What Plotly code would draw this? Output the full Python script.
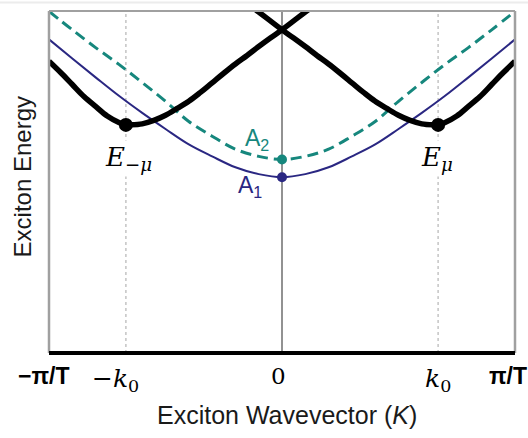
import plotly.graph_objects as go

# ---- data (k in units of pi/T, energy in arbitrary units) ----
K0 = 0.67

K_HALF = [-1.0, -0.9, -0.8, -0.7, -0.6, -0.5, -0.4, -0.3, -0.2, -0.1, 0.0]
A1_HALF = [91.7, 86.1, 80.6, 75.2, 70.2, 65.5, 61.0, 57.5, 54.3, 52.3, 51.4]
A2_HALF = [99.9, 94.5, 89.3, 84.4, 79.1, 73.6, 67.7, 63.4, 59.6, 57.5, 56.6]

K_BLACK = [-1.0, -0.95, -0.9, -0.85, -0.8, -0.75, -0.7, -0.67, -0.65, -0.6, -0.55,
           -0.5, -0.45, -0.4, -0.35, -0.3, -0.25, -0.2, -0.15, -0.1, -0.05,
           0.0, 0.05, 0.1, 0.15]
E_MINUS_MU = [85.3, 82.0, 78.5, 75.0, 72.1, 69.3, 67.4, 66.7, 66.7, 67.0, 68.0,
              69.5, 71.5, 73.6, 76.2, 79.0, 81.8, 84.5, 87.0, 89.6, 92.1,
              94.5, 97.1, 99.7, 102.2]

TICK_LABELS = ["<b>\u2212\u03c0/T</b>", "\u2212<i>k</i><sub>0</sub>", "0",
               "<i>k</i><sub>0</sub>", "<b>\u03c0/T</b>"]

# full symmetric curves
k_full = K_HALF + [-k for k in reversed(K_HALF[:-1])]
a1_full = A1_HALF + list(reversed(A1_HALF[:-1]))
a2_full = A2_HALF + list(reversed(A2_HALF[:-1]))
k_plus = [-k for k in K_BLACK]
e_min = E_MINUS_MU[K_BLACK.index(-K0)]

NAVY = "#2a2782"
TEAL = "#16877d"

fig = go.Figure()
fig.add_trace(go.Scatter(x=k_full, y=a1_full, mode="lines", line=dict(color=NAVY, width=2, shape="spline"),
                         showlegend=False, hoverinfo="skip"))
fig.add_trace(go.Scatter(x=k_full, y=a2_full, mode="lines",
                         line=dict(color=TEAL, width=3, dash="11px,6px", shape="spline"),
                         showlegend=False, hoverinfo="skip"))
fig.add_trace(go.Scatter(x=K_BLACK, y=E_MINUS_MU, mode="lines", line=dict(color="black", width=5.5, shape="spline"),
                         showlegend=False, hoverinfo="skip"))
fig.add_trace(go.Scatter(x=k_plus, y=E_MINUS_MU, mode="lines", line=dict(color="black", width=5.5, shape="spline"),
                         showlegend=False, hoverinfo="skip"))
fig.add_trace(go.Scatter(x=[-K0, K0], y=[e_min, e_min], mode="markers",
                         marker=dict(color="black", size=14), showlegend=False, hoverinfo="skip"))
fig.add_trace(go.Scatter(x=[0], y=[A2_HALF[-1]], mode="markers",
                         marker=dict(color=TEAL, size=10), showlegend=False, hoverinfo="skip"))
fig.add_trace(go.Scatter(x=[0], y=[A1_HALF[-1]], mode="markers",
                         marker=dict(color=NAVY, size=10), showlegend=False, hoverinfo="skip"))

shapes = [
    # dotted k0 guides
    dict(type="line", xref="x", yref="y", x0=-K0, x1=-K0, y0=0, y1=100,
         line=dict(color="#c4c4c4", width=1.5, dash="dot"), layer="below"),
    dict(type="line", xref="x", yref="y", x0=K0, x1=K0, y0=0, y1=100,
         line=dict(color="#c4c4c4", width=1.5, dash="dot"), layer="below"),
    # centre line
    dict(type="line", xref="x", yref="y", x0=0, x1=0, y0=0, y1=100,
         line=dict(color="#6e6e6e", width=1.5), layer="below"),
    # gray frame (left, top, right)
    dict(type="line", xref="paper", yref="paper", x0=0, x1=0, y0=0, y1=1,
         line=dict(color="#a0a0a0", width=2.5)),
    dict(type="line", xref="paper", yref="paper", x0=0, x1=1, y0=1, y1=1,
         line=dict(color="#a0a0a0", width=2)),
    dict(type="line", xref="paper", yref="paper", x0=1, x1=1, y0=0, y1=1,
         line=dict(color="#a0a0a0", width=2.5)),
    # thick black bottom axis
    dict(type="line", xref="paper", yref="paper", x0=0, x1=1, y0=0, y1=0,
         line=dict(color="black", width=4)),
    # faint line at the top of the image
    dict(type="line", xref="paper", yref="paper", x0=-0.11, x1=1.03, y0=1.025, y1=1.025,
         line=dict(color="#ececec", width=2)),
]

# tick label positions in paper coordinates (plot spans the full k range [-1, 1])
tick_px = [-0.012, 0.143, 0.492, 0.835, 0.984]
annotations = []
for tx, tl in zip(tick_px, TICK_LABELS):
    if "\u03c0" in tl:
        font = dict(family="Liberation Sans, Arial", size=23, color="black")
        yy = -0.067
    else:
        font = dict(family="DejaVu Serif", size=25 if "k" in tl else 23, color="black")
        yy = -0.078 if "k" in tl else -0.067
    annotations.append(dict(x=tx, y=yy, xref="paper", yref="paper", text=tl, showarrow=False,
                            font=font, xanchor="center", yanchor="middle"))

annotations += [
    dict(x=0.51, y=-0.182, xref="paper", yref="paper", text="Exciton Wavevector (<i>K</i>)", showarrow=False,
         font=dict(family="Liberation Sans, Arial", size=25, color="#1a1a1a"), xanchor="center", yanchor="middle"),
    dict(x=-0.056, y=0.516, xref="paper", yref="paper", text="Exciton Energy", showarrow=False, textangle=-90,
         font=dict(family="Liberation Sans, Arial", size=24, color="#1a1a1a"), xanchor="center", yanchor="middle"),
    dict(x=-0.66, y=57.0, xref="x", yref="y", text="<i>E</i><sub>\u2212<i>\u03bc</i></sub>", showarrow=False,
         font=dict(family="DejaVu Serif", size=26, color="black"), bgcolor="white",
         xanchor="center", yanchor="middle"),
    dict(x=0.667, y=57.0, xref="x", yref="y", text="<i>E</i><sub><i>\u03bc</i></sub>", showarrow=False,
         font=dict(family="DejaVu Serif", size=26, color="black"), bgcolor="white",
         xanchor="center", yanchor="middle"),
    dict(x=-0.107, y=62.5, xref="x", yref="y", text="A<sub>2</sub>", showarrow=False,
         font=dict(family="Liberation Sans, Arial", size=23, color=TEAL), xanchor="center", yanchor="middle"),
    dict(x=-0.137, y=48.8, xref="x", yref="y", text="A<sub>1</sub>", showarrow=False,
         font=dict(family="Liberation Sans, Arial", size=23, color=NAVY), xanchor="center", yanchor="middle"),
]

fig.update_layout(
    width=528, height=438,
    margin=dict(l=49, r=13, t=10.5, b=85),
    paper_bgcolor="white", plot_bgcolor="white",
    xaxis=dict(range=[-1, 1], showgrid=False, zeroline=False, showticklabels=False, ticks="", showline=False),
    yaxis=dict(range=[0, 100], showgrid=False, zeroline=False, showticklabels=False, ticks="", showline=False),
    shapes=shapes, annotations=annotations, showlegend=False,
)

fig.write_html("out.html", config={"displayModeBar": False},
               post_script="document.body.style.margin='0';")
